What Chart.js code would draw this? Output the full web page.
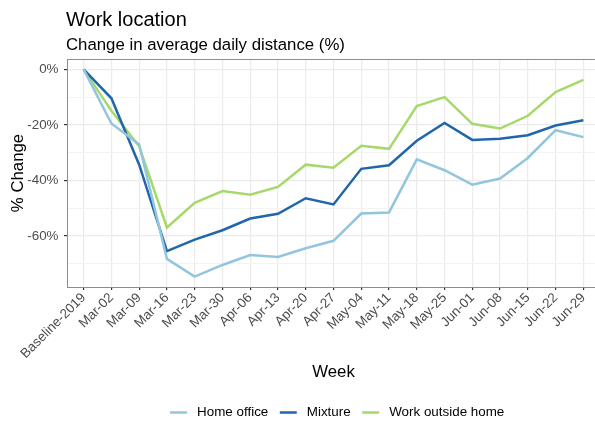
<!DOCTYPE html>
<html>
<head>
<meta charset="utf-8">
<script src="https://cdn.jsdelivr.net/npm/chart.js@4"></script>
<style>
  html, body { margin: 0; padding: 0; background: #fff; overflow: hidden; }
  #wrap { width: 615px; height: 425px; position: relative; }
</style>
</head>
<body>
<div id="wrap"><canvas id="c" width="615" height="425"></canvas></div>
<script>
const weeks = ['Baseline-2019','Mar-02','Mar-09','Mar-16','Mar-23','Mar-30','Apr-06','Apr-13','Apr-20','Apr-27','May-04','May-11','May-18','May-25','Jun-01','Jun-08','Jun-15','Jun-22','Jun-29'];
const homeOffice = [0, -19.5, -27, -68.2, -74.6, -70.4, -66.8, -67.5, -64.4, -61.7, -51.9, -51.5, -32.4, -36.3, -41.5, -39.3, -31.9, -21.9, -24.4];
const mixture = [0, -10.4, -34.3, -65.4, -61.3, -57.9, -53.7, -52.0, -46.4, -48.6, -35.8, -34.5, -25.7, -19.3, -25.4, -25.0, -23.7, -20.2, -18.3];
const workOutside = [0, -14.9, -27.7, -56.9, -48.0, -43.8, -45.1, -42.3, -34.3, -35.4, -27.5, -28.6, -13.2, -10.0, -19.6, -21.3, -16.7, -8.2, -3.8];
const seriesNames = ['Home office', 'Mixture', 'Work outside home'];
const seriesColors = ['#92c5de', '#2166ac', '#a6d96a'];
const yTickValues = [-70, -60, -50, -40, -30, -20, -10, 0];
const titleText = 'Work location';
const subtitleText = 'Change in average daily distance (%)';

const FONT = "'Liberation Sans', Arial, sans-serif";
const seriesData = [homeOffice, mixture, workOutside];

const datasets = seriesData.map((arr, i) => ({
  label: seriesNames[i],
  data: arr.map((v, j) => ({ x: j, y: v })),
  borderColor: seriesColors[i],
  backgroundColor: seriesColors[i],
  borderWidth: 2.5,
  pointRadius: 0,
  tension: 0,
  fill: false
}));

const decor = {
  id: 'decor',
  afterDatasetsDraw(chart) {
    const ctx = chart.ctx;
    const a = chart.chartArea;
    ctx.save();
    ctx.strokeStyle = '#8c8c8c';
    ctx.lineWidth = 1;
    ctx.beginPath();
    ctx.moveTo(a.left, a.top + 0.5);
    ctx.lineTo(a.right, a.top + 0.5);
    ctx.stroke();
    ctx.restore();
  },
  afterDraw(chart) {
    const ctx = chart.ctx;
    ctx.save();
    ctx.fillStyle = '#000';
    ctx.textAlign = 'left';
    ctx.textBaseline = 'alphabetic';
    ctx.font = '20px ' + FONT;
    ctx.fillText(titleText, 66, 26);
    ctx.font = '16.8px ' + FONT;
    ctx.fillText(subtitleText, 66, 49.5);
    // legend
    const ly = 412.5;
    const items = chart.data.datasets;
    ctx.font = '13.4px ' + FONT;
    const keyW = 17, gapKT = 10, gapItems = 11.5;
    let total = 0;
    const widths = items.map(d => ctx.measureText(d.label).width);
    widths.forEach((w, i) => { total += keyW + gapKT + w + (i < widths.length - 1 ? gapItems : 0); });
    let x = 337.2 - total / 2;
    ctx.textBaseline = 'middle';
    items.forEach((d, i) => {
      ctx.strokeStyle = d.borderColor;
      ctx.lineWidth = 2.5;
      ctx.beginPath();
      ctx.moveTo(x, ly);
      ctx.lineTo(x + keyW, ly);
      ctx.stroke();
      ctx.fillStyle = '#000';
      ctx.fillText(d.label, x + keyW + gapKT, ly);
      x += keyW + gapKT + widths[i] + gapItems;
    });
    ctx.restore();
  }
};

new Chart(document.getElementById('c'), {
  type: 'line',
  data: { datasets },
  options: {
    responsive: false,
    animation: false,
    devicePixelRatio: 1,
    layout: { padding: { top: 59, right: 15, bottom: 43, left: 0 } },
    plugins: {
      legend: { display: false },
      title: { display: false },
      tooltip: { enabled: false }
    },
    scales: {
      x: {
        type: 'linear',
        min: -0.6,
        max: weeks.length - 1 + 0.6,
        afterBuildTicks(scale) { scale.ticks = weeks.map((w, i) => ({ value: i })); },
        afterFit(scale) { scale.height = 95; },
        ticks: {
          autoSkip: false,
          minRotation: 45,
          maxRotation: 45,
          padding: 0,
          color: '#4d4d4d',
          font: { family: FONT, size: 13.4 },
          callback: (v) => weeks[v]
        },
        grid: {
          color: '#ebebeb',
          lineWidth: 1.2,
          tickLength: 3,
          tickColor: '#333',
          drawTicks: true
        },
        border: { display: true, color: '#8c8c8c', width: 1 },
        title: {
          display: true,
          text: 'Week',
          color: '#000',
          font: { family: FONT, size: 16.8 },
          padding: { top: 0, bottom: 0 }
        }
      },
      y: {
        type: 'linear',
        min: -78.33,
        max: 3.73,
        afterBuildTicks(scale) { scale.ticks = yTickValues.map(v => ({ value: v })); },
        afterFit(scale) { scale.width = 67; },
        ticks: {
          padding: 5.5,
          color: '#4d4d4d',
          font: { family: FONT, size: 13.4 },
          callback: (v) => (v % 20 === 0 ? v + '%' : '')
        },
        grid: {
          color: (c) => (c.tick && c.tick.value % 20 === 0 ? '#ebebeb' : '#f3f3f3'),
          lineWidth: (c) => (c.tick && c.tick.value % 20 === 0 ? 1.2 : 1),
          tickLength: 3,
          tickColor: (c) => (c.tick && c.tick.value % 20 === 0 ? '#333' : 'rgba(0,0,0,0)')
        },
        border: { display: true, color: '#8c8c8c', width: 1 },
        title: {
          display: true,
          text: '% Change',
          color: '#000',
          font: { family: FONT, size: 16.8 },
          padding: { top: 8, bottom: 0 }
        }
      }
    }
  },
  plugins: [decor]
});
</script>
</body>
</html>
